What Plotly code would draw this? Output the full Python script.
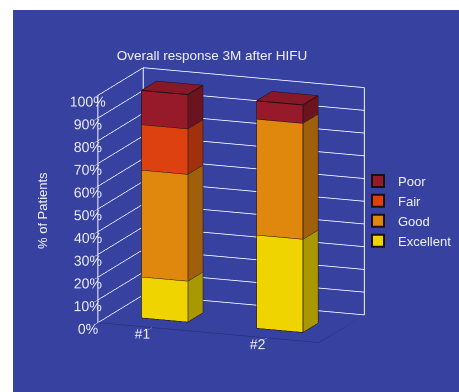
import plotly.graph_objects as go

# Treatment groups and response shares (% of patients)
groups = ["#1", "#2"]
group_pos = [1, 2]
series = ["Excellent", "Good", "Fair", "Poor"]
excellent = [18, 41]
good = [47, 51]
fair = [20, 0]
poor = [15, 8]
values = {"Excellent": excellent, "Good": good, "Fair": fair, "Poor": poor}
z_ticks = list(range(0, 101, 10))
z_labels = [f"{t}%" for t in z_ticks]

front_col = {"Excellent": "#f0d400", "Good": "#e0870d", "Fair": "#dc410f", "Poor": "#961a2a"}
side_col = {"Excellent": "#a99800", "Good": "#a05f0a", "Fair": "#a1300d", "Poor": "#6c1320"}
top_col = {"Excellent": "#dcc400", "Good": "#c77a0c", "Fair": "#c03a0e", "Poor": "#861827"}

BLUE = "#3741a0"
TXT = "#eceef6"
FONT = "Liberation Sans, Arial, sans-serif"
W, H = 459, 392

HALF_W = 0.2          # half bar width along x
Y0, Y1 = 0.28, 0.61   # bar depth extent
XR = [0.53, 2.45]
YR = [0.0, 1.0]
ZR = [0, 100]

fig = go.Figure()


def box(x0, x1, y0, y1, z0, z1):
    vx = [x0, x1, x1, x0, x0, x1, x1, x0]
    vy = [y0, y0, y1, y1, y0, y0, y1, y1]
    vz = [z0, z0, z0, z0, z1, z1, z1, z1]
    return vx, vy, vz


# triangles of a box: (i, j, k, face kind)
faces = [
    (0, 1, 5, "front"), (0, 5, 4, "front"),
    (1, 2, 6, "side"), (1, 6, 5, "side"),
    (4, 5, 6, "top"), (4, 6, 7, "top"),
    (0, 3, 7, "side"), (0, 7, 4, "side"),
    (3, 2, 6, "side"), (3, 6, 7, "side"),
    (0, 1, 2, "side"), (0, 2, 3, "side"),
]
edges = [(0, 1), (1, 2), (2, 3), (3, 0), (4, 5), (5, 6), (6, 7), (7, 4),
         (0, 4), (1, 5), (2, 6), (3, 7)]
palette = {"front": front_col, "side": side_col, "top": top_col}

base = [0.0 for _ in groups]
ex, ey, ez = [], [], []
for name in series:
    vals = values[name]
    X, Y, Z, I, J, K, FC = [], [], [], [], [], [], []
    for g, xc in enumerate(group_pos):
        v = vals[g]
        if v <= 0:
            continue
        z0, z1 = base[g], base[g] + v
        base[g] = z1
        vx, vy, vz = box(xc - HALF_W, xc + HALF_W, Y0, Y1, z0, z1)
        off = len(X)
        X += vx
        Y += vy
        Z += vz
        for a, b, c, kind in faces:
            I.append(a + off)
            J.append(b + off)
            K.append(c + off)
            FC.append(palette[kind][name])
        for a, b in edges:
            ex += [vx[a], vx[b], None]
            ey += [vy[a], vy[b], None]
            ez += [vz[a], vz[b], None]
    fig.add_trace(go.Mesh3d(
        x=X, y=Y, z=Z, i=I, j=J, k=K, facecolor=FC, flatshading=True,
        lighting=dict(ambient=1, diffuse=0, specular=0, fresnel=0, roughness=1),
        hoverinfo="skip", showlegend=False, name=name,
    ))

# dark outlines of the bar segments
fig.add_trace(go.Scatter3d(x=ex, y=ey, z=ez, mode="lines",
                           line=dict(color="#1a1010", width=2),
                           hoverinfo="skip", showlegend=False))

# vertical edges of the two walls
fx = [XR[0], XR[0], None, XR[0], XR[0], None, XR[1], XR[1], None]
fy = [YR[0], YR[0], None, YR[1], YR[1], None, YR[1], YR[1], None]
fz = [ZR[0], ZR[1], None, ZR[0], ZR[1], None, ZR[0], ZR[1], None]
fig.add_trace(go.Scatter3d(x=fx, y=fy, z=fz, mode="lines",
                           line=dict(color="#f4f4ff", width=2),
                           hoverinfo="skip", showlegend=False))
# floor outline
gx = [XR[0], XR[1], XR[1]]
gy = [YR[0], YR[0], YR[1]]
gz = [ZR[0], ZR[0], ZR[0]]
fig.add_trace(go.Scatter3d(x=gx, y=gy, z=gz, mode="lines",
                           line=dict(color="#27307a", width=1.5),
                           hoverinfo="skip", showlegend=False))

# legend entries (top to bottom: Poor, Fair, Good, Excellent)
for name in ["Poor", "Fair", "Good", "Excellent"]:
    fig.add_trace(go.Scatter3d(x=[None], y=[None], z=[None], mode="markers", name=name,
                               marker=dict(symbol="square", size=9, color=front_col[name],
                                           line=dict(color="#1a1010", width=1))))

axis_common = dict(showbackground=False, zeroline=False, showspikes=False,
                   title=dict(text=""), showline=False, tickangle=0)

fig.update_layout(
    width=W, height=H,
    margin=dict(l=0, r=0, t=0, b=0, autoexpand=False),
    paper_bgcolor="white",
    font=dict(family=FONT, color=TXT, size=13),
    title=dict(text="Overall response 3M after HIFU", x=212 / W, xanchor="center",
               y=1 - 55 / H, yanchor="middle", font=dict(size=13.5, color=TXT)),
    showlegend=True,
    legend=dict(x=358 / W, y=1 - 166 / H,
                xanchor="left", yanchor="top", bgcolor="rgba(0,0,0,0)",
                font=dict(size=13, color=TXT), itemsizing="constant", tracegroupgap=0),
    scene=dict(
        domain=dict(x=[13 / W, 1], y=[0, 1 - 10 / H]),
        bgcolor=BLUE,
        xaxis=dict(range=XR, tickvals=group_pos, ticktext=groups, showgrid=False,
                   ticks="outside", ticklen=14, tickcolor="rgba(0,0,0,0)",
                   tickfont=dict(size=13, color=TXT), **axis_common),
        yaxis=dict(range=YR, showticklabels=False, showgrid=False, ticks="", **axis_common),
        zaxis=dict(range=ZR, tickvals=z_ticks, ticktext=z_labels,
                   ticks="outside", ticklen=10, tickcolor="#f4f4ff", tickwidth=1,
                   showgrid=True, gridcolor="rgba(235,238,255,0.85)", gridwidth=1.5,
                   tickfont=dict(size=13, color=TXT), **axis_common),
        aspectmode="manual",
        aspectratio=dict(x=1.24, y=0.662, z=1.224),
        camera=dict(eye=dict(x=0.568, y=-1.407, z=0.388),
                    center=dict(x=0.022, y=0.014, z=0.021),
                    up=dict(x=0, y=0, z=1), projection=dict(type="orthographic")),
    ),
    annotations=[dict(text="% of Patients", x=43 / W, y=1 - 211 / H, xref="paper", yref="paper",
                      textangle=-90, showarrow=False, font=dict(size=13, color=TXT),
                      xanchor="center", yanchor="middle")],
)

fig.write_html("out.html")
